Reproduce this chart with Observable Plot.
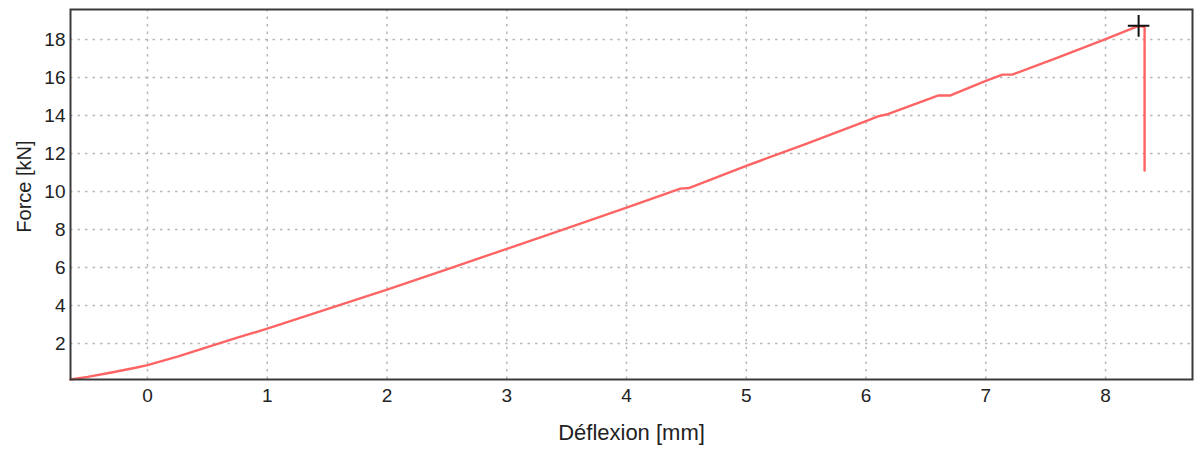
<!DOCTYPE html>
<html>
<head>
<meta charset="utf-8">
<script src="https://cdn.jsdelivr.net/npm/d3@7"></script>
<script src="https://cdn.jsdelivr.net/npm/@observablehq/plot@0.6"></script>
<style>
  html, body { margin: 0; padding: 0; background: #fff; }
  #chart svg { display: block; }
</style>
</head>
<body>
<div id="chart"></div>
<script>
// Deflection [mm] and force [kN]
const deflection = [-0.643, -0.5, -0.3, -0.1, 0, 0.25, 0.5, 0.75, 1, 1.5, 2, 2.5, 3, 3.5, 4, 4.45, 4.52, 5, 5.5, 6, 6.1, 6.17, 6.6, 6.7, 7, 7.14, 7.22, 7.6, 8, 8.276, 8.326, 8.326];
const force      = [0.10, 0.24, 0.47, 0.72, 0.86, 1.3, 1.8, 2.3, 2.78, 3.8, 4.83, 5.9, 6.98, 8.06, 9.15, 10.15, 10.18, 11.35, 12.5, 13.7, 13.95, 14.05, 15.05, 15.05, 15.82, 16.15, 16.15, 17.05, 18.02, 18.72, 18.65, 11.1];
const peakDeflection = [8.276];
const peakForce = [18.72];
const xTicks = [0, 1, 2, 3, 4, 5, 6, 7, 8];
const yTicks = [2, 4, 6, 8, 10, 12, 14, 16, 18];
const xLabel = "Déflexion [mm]";
const yLabel = "Force [kN]";

const curve = deflection.map((d, i) => ({x: d, y: force[i]}));
const peak = peakDeflection.map((d, i) => ({x: d, y: peakForce[i]}));

const chart = Plot.plot({
  width: 1194,
  height: 450,
  marginLeft: 70,
  marginRight: 2,
  marginTop: 9,
  marginBottom: 71,
  style: {fontFamily: "'Liberation Sans', Arial, sans-serif", fontSize: "19px", color: "#222", background: "#fff"},
  x: {domain: [-0.643, 8.726]},
  y: {domain: [0.1, 19.58]},
  marks: [
    Plot.gridX(xTicks, {stroke: "#b8b8b8", strokeOpacity: 1, strokeWidth: 1.5, strokeDasharray: "2.5,5"}),
    Plot.gridY(yTicks, {stroke: "#b8b8b8", strokeOpacity: 1, strokeWidth: 1.5, strokeDasharray: "2.5,5"}),
    Plot.axisX(xTicks, {tickSize: 0, tickPadding: 9, label: null, fontSize: 19, tickFormat: d3.format("d")}),
    Plot.axisY(yTicks, {tickSize: 0, tickPadding: 5, label: null, fontSize: 19, tickFormat: d3.format("d")}),
    Plot.line(curve, {x: "x", y: "y", stroke: "#ff6464", strokeWidth: 2.4}),
    Plot.dot(peak, {x: "x", y: "y", symbol: "plus", r: 7, stroke: "#111", strokeWidth: 2}),
    Plot.frame({stroke: "#3a3a3a", strokeWidth: 2}),
    Plot.text([xLabel], {frameAnchor: "bottom", textAnchor: "middle", dy: 60, fontSize: 22, fill: "#222"}),
    Plot.text([yLabel], {frameAnchor: "left", textAnchor: "middle", rotate: -90, dx: -46, dy: -8, fontSize: 20, fill: "#222"})
  ]
});
document.getElementById("chart").appendChild(chart);
</script>
</body>
</html>
